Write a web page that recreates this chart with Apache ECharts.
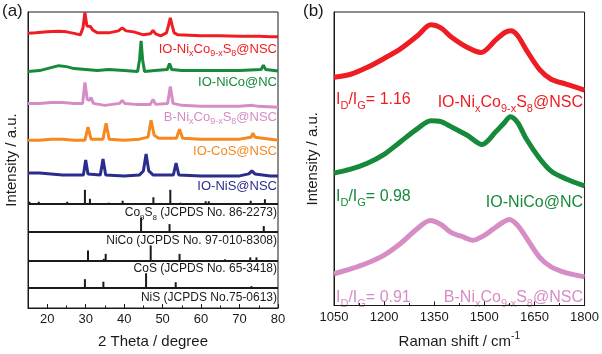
<!DOCTYPE html>
<html lang="en">
<head>
  <meta charset="UTF-8">
  <title>XRD and Raman</title>
  <script src="https://cdn.jsdelivr.net/npm/echarts@6/dist/echarts.min.js"></script>
  <style>
    html, body { margin: 0; padding: 0; background: #fff; }
  </style>
</head>
<body>
  <div id="app" style="width: 602px; height: 354px;"></div>
  <script>
    // (a) XRD curves: [2theta, intensity above own baseline]
    var xrdRed = [[15,3.5],[17,4],[20,5],[23,5.5],[25,5],[27,3.5],[28.6,2],[29.3,9],[29.8,24.5],[30.3,11],[30.8,9],[31.2,10.5],[31.8,7],[33,4],[36,4],[38.5,6],[39.5,9],[40.5,6],[42.5,5],[45,2],[46.8,3],[47.5,6.5],[48.2,3],[49.5,1],[51,4],[51.5,11],[52,19],[52.5,11],[53,4],[54,2],[57,1.5],[60,1],[65,1],[70,0.5],[75,0.5],[78,0],[80,0]]
    var xrdGreen = [[15,0],[18,1],[21,4],[23,6],[25,5],[27,3],[30,2],[33,1],[36,2],[40,1],[43.5,0],[44.0,12],[44.4,31],[44.8,12],[45.3,0],[48,1],[51.2,2],[51.8,8],[52.4,2],[55,1],[60,1],[65,1],[70,1],[75.6,2],[76.2,6.5],[76.8,2],[80,0.5]]
    var xrdPink = [[15,4],[18,4],[21,5],[24,5],[27,4],[29.2,4],[29.8,25],[30.4,8],[31.0,7],[31.4,10],[32,4],[35,2],[38.8,4],[39.5,7],[40.2,4],[43,3],[46.8,3],[47.5,8],[48.2,3],[51.3,4],[52,21],[52.7,4],[55,2],[60,1],[65,1],[70,1],[73.3,2],[75,1],[80,0]]
    var xrdOrange = [[15,1],[18,1],[21,2],[24,2],[27,1],[29.8,1],[30.6,14],[31.4,2],[34.5,2],[35.3,18],[36.1,2],[40,1],[44,2],[46.2,4],[47.0,21],[47.8,6],[49,3],[53.6,3],[54.4,12],[55.2,3],[60,2],[65,2],[70,2],[73.0,4],[73.5,8],[74.0,4],[78,2],[80,1]]
    var xrdNavy = [[15,3],[18,3],[21,2],[24,1],[27,1],[29.4,1],[30.0,16],[30.6,2],[33.8,1],[34.5,17],[35.2,1],[40,0],[44,1],[45.0,5],[45.7,22],[46.4,5],[47.5,1],[52.8,1],[53.5,13],[54.2,1],[60,0],[65,0],[70,0],[72.4,2],[73.2,5],[74,2],[78,0],[80,0]]
    var xrdOffsets = [273, 238, 202, 168, 133]

    // reference patterns: [2theta, relative height]
    var refCo9S8 = [[15.4,2],[17.8,2],[25.2,2],[29.8,14],[31.1,5],[36.0,1],[39.6,3],[47.6,6.5],[52.0,14],[54.6,1],[61.2,2.5],[62.0,2.5],[72.9,3],[76.6,4.5]]
    var refNiCo = [[44.4,14],[51.8,7.5],[76.3,5.5]]
    var refCoS = [[30.6,10],[34.7,1.5],[35.2,6.5],[46.9,15],[54.4,6.5],[66.2,1],[72.8,3],[74.4,3]]
    var refNiS = [[29.8,9],[34.6,6.5],[45.7,15],[53.4,6],[73.1,2]]
    var refOffsets = [105, 77, 48, 20]

    // (b) Raman: [shift, intensity above own baseline]
    var ramanRed = [[1050,17],[1100,20],[1150,27],[1200,36],[1250,46],[1300,59],[1340,70],[1370,67],[1400,58],[1450,47],[1490,42],[1535,55],[1560,62],[1580,64],[1600,59],[1625,45],[1665,25],[1700,15],[1745,10],[1800,4]]
    var ramanGreen = [[1050,17],[1100,21],[1150,27],[1200,36],[1250,49],[1300,62],[1340,70],[1370,69],[1400,64],[1450,55],[1493,46],[1535,59],[1560,68],[1578,74],[1600,68],[1625,52],[1665,32],[1700,19],[1745,11],[1800,4]]
    var ramanPink = [[1050,6],[1100,11],[1150,17],[1200,25],[1250,37],[1300,52],[1338,60],[1370,56],[1400,48],[1440,43],[1465,40],[1500,45],[1525,51],[1555,58],[1575,61],[1600,55],[1625,43],[1665,23],[1700,13],[1745,7],[1800,3]]
    var ramanOffsets = [214, 117, 26]

    var xrdTicks = [20, 30, 40, 50, 60, 70, 80]
    var xrdMinorTicks = [15, 25, 35, 45, 55, 65, 75]

    var cRed = '#ee1d23', cGreen = '#168a3b', cPink = '#d68cc4', cOrange = '#f5891f', cNavy = '#2b2d8e'
    var ink = '#1a1a1a'
    var FONT = 'Liberation Sans, Arial, sans-serif'

    function shift(arr, off) {
      return arr.map(function (p) { return [p[0], p[1] + off] })
    }

    function lineSeries(data, off, color, xi, width, smooth) {
      return {
        type: 'line', xAxisIndex: xi, yAxisIndex: xi,
        data: shift(data, off), showSymbol: false, smooth: smooth || false,
        lineStyle: { color: color, width: width }, silent: true
      }
    }

    function stickSeries(data, base) {
      return {
        type: 'custom', xAxisIndex: 0, yAxisIndex: 0, silent: true,
        data: data.map(function (p) { return [p[0], p[1], base] }),
        renderItem: function (params, api) {
          var p0 = api.coord([api.value(0), api.value(2)])
          var p1 = api.coord([api.value(0), api.value(2) + api.value(1)])
          return { type: 'line', shape: { x1: p0[0], y1: p0[1], x2: p1[0], y2: p1[1] }, style: { stroke: ink, lineWidth: 2 } }
        },
        markLine: {
          silent: true, symbol: 'none', label: { show: false },
          lineStyle: { color: ink, width: 2, type: 'solid' },
          data: [{ yAxis: base }]
        }
      }
    }

    var richBase = function (size, color) {
      return {
        m: { fontSize: size, fontFamily: FONT, fill: color, lineHeight: size + 6 },
        s: { fontSize: Math.round(size * 0.66), fontFamily: FONT, fill: color, verticalAlign: 'bottom', lineHeight: size + 6 }
      }
    }

    function label(x, y, text, size, color, align) {
      return {
        type: 'text', x: x, y: y, silent: true,
        style: { text: text, fill: color, align: align || 'right', verticalAlign: 'middle', rich: richBase(size, color) }
      }
    }

    var mix = '{m|IO-Ni}{s|x}{m|Co}{s|9-x}{m|S}{s|8}{m|@NSC}'
    var bmix = '{m|B-Ni}{s|x}{m|Co}{s|9-x}{m|S}{s|8}{m|@NSC}'

    var axisCommon = {
      axisLine: { lineStyle: { color: ink, width: 1 } },
      splitLine: { show: false },
      nameTextStyle: { color: ink, fontSize: 15, fontFamily: FONT }
    }

    var mCharts = echarts.init(document.getElementById('app'))
    var option = {
      animation: false,
      grid: [
        { left: 28, top: 12, width: 250, height: 298, show: true, borderColor: ink, borderWidth: 1 },
        { left: 334, top: 12, width: 251, height: 297, show: true, borderColor: ink, borderWidth: 1 }
      ],
      xAxis: [
        Object.assign({}, axisCommon, {
          gridIndex: 0, type: 'value', min: 15, max: 80,
          name: '2 Theta / degree', nameLocation: 'middle', nameGap: 26,
          axisTick: { inside: true, length: 4, customValues: xrdTicks, lineStyle: { color: ink } },
          axisLabel: { customValues: xrdTicks, color: ink, fontSize: 13, fontFamily: FONT, margin: 5 }
        }),
        Object.assign({}, axisCommon, {
          gridIndex: 1, type: 'value', min: 1050, max: 1800, interval: 150,
          name: '{m|Raman shift / cm}{p|-1}', nameLocation: 'middle', nameGap: 26,
          nameTextStyle: {
            color: ink, fontFamily: FONT,
            rich: {
              m: { fontSize: 15, fontFamily: FONT, color: ink, lineHeight: 20 },
              p: { fontSize: 10, fontFamily: FONT, color: ink, verticalAlign: 'top', lineHeight: 20 }
            }
          },
          axisTick: { inside: true, length: 4, lineStyle: { color: ink } },
          minorTick: { show: true, splitNumber: 2, length: 2.5, lineStyle: { color: ink } },
          axisLabel: {
            color: ink, fontSize: 13, fontFamily: FONT, margin: 5,
            formatter: function (v) { return String(v) }
          }
        }),
        {
          gridIndex: 0, type: 'value', min: 15, max: 80, position: 'bottom',
          axisLine: { show: false }, splitLine: { show: false },
          axisTick: { inside: true, length: 2.5, customValues: xrdMinorTicks, lineStyle: { color: ink } },
          axisLabel: { show: false }
        }
      ],
      yAxis: [
        Object.assign({}, axisCommon, {
          gridIndex: 0, type: 'value', min: 0, max: 298,
          name: 'Intensity / a.u.', nameLocation: 'middle', nameGap: 9,
          axisTick: { show: false }, axisLabel: { show: false }
        }),
        Object.assign({}, axisCommon, {
          gridIndex: 1, type: 'value', min: 0, max: 297,
          name: 'Intensity / a.u.', nameLocation: 'middle', nameGap: 14,
          axisTick: { show: false }, axisLabel: { show: false }
        })
      ],
      series: [
        lineSeries(xrdRed, xrdOffsets[0], cRed, 0, 3),
        lineSeries(xrdGreen, xrdOffsets[1], cGreen, 0, 3),
        lineSeries(xrdPink, xrdOffsets[2], cPink, 0, 3),
        lineSeries(xrdOrange, xrdOffsets[3], cOrange, 0, 3),
        lineSeries(xrdNavy, xrdOffsets[4], cNavy, 0, 3),
        stickSeries(refCo9S8, refOffsets[0]),
        stickSeries(refNiCo, refOffsets[1]),
        stickSeries(refCoS, refOffsets[2]),
        stickSeries(refNiS, refOffsets[3]),
        lineSeries(ramanRed, ramanOffsets[0], cRed, 1, 5, 0.3),
        lineSeries(ramanGreen, ramanOffsets[1], cGreen, 1, 5, 0.3),
        lineSeries(ramanPink, ramanOffsets[2], cPink, 1, 5, 0.3)
      ],
      graphic: [
        { type: 'text', x: 2, y: 11, style: { text: '(a)', fontSize: 17, fontFamily: FONT, fill: ink, verticalAlign: 'middle' } },
        { type: 'text', x: 303, y: 11, style: { text: '(b)', fontSize: 17, fontFamily: FONT, fill: ink, verticalAlign: 'middle' } },
        label(277, 49, mix, 13, cRed),
        label(277, 82, '{m|IO-NiCo@NC}', 13, cGreen),
        label(277, 117, bmix, 13, cPink),
        label(277, 151, '{m|IO-CoS@NSC}', 13, cOrange),
        label(277, 186, '{m|IO-NiS@NSC}', 13, cNavy),
        label(277, 213, '{m|Co}{s|9}{m|S}{s|8}{m| (JCPDS No. 86-2273)}', 12, ink),
        label(277, 241, '{m|NiCo (JCPDS No. 97-010-8308)}', 12, ink),
        label(277, 269, '{m|CoS (JCPDS No. 65-3418)}', 12, ink),
        label(277, 298, '{m|NiS (JCPDS No.75-0613)}', 12, ink),
        label(336, 100, '{m|I}{s|D}{m|/I}{s|G}{m|= 1.16}', 16, cRed, 'left'),
        label(583, 103, mix, 16, cRed),
        label(336, 197, '{m|I}{s|D}{m|/I}{s|G}{m|= 0.98}', 16, cGreen, 'left'),
        label(583, 203, '{m|IO-NiCo@NC}', 16, cGreen),
        label(336, 298, '{m|I}{s|D}{m|/I}{s|G}{m|= 0.91}', 16, cPink, 'left'),
        label(583, 298, bmix, 16, cPink)
      ]
    }
    mCharts.setOption(option)
  </script>
</body>
</html>
